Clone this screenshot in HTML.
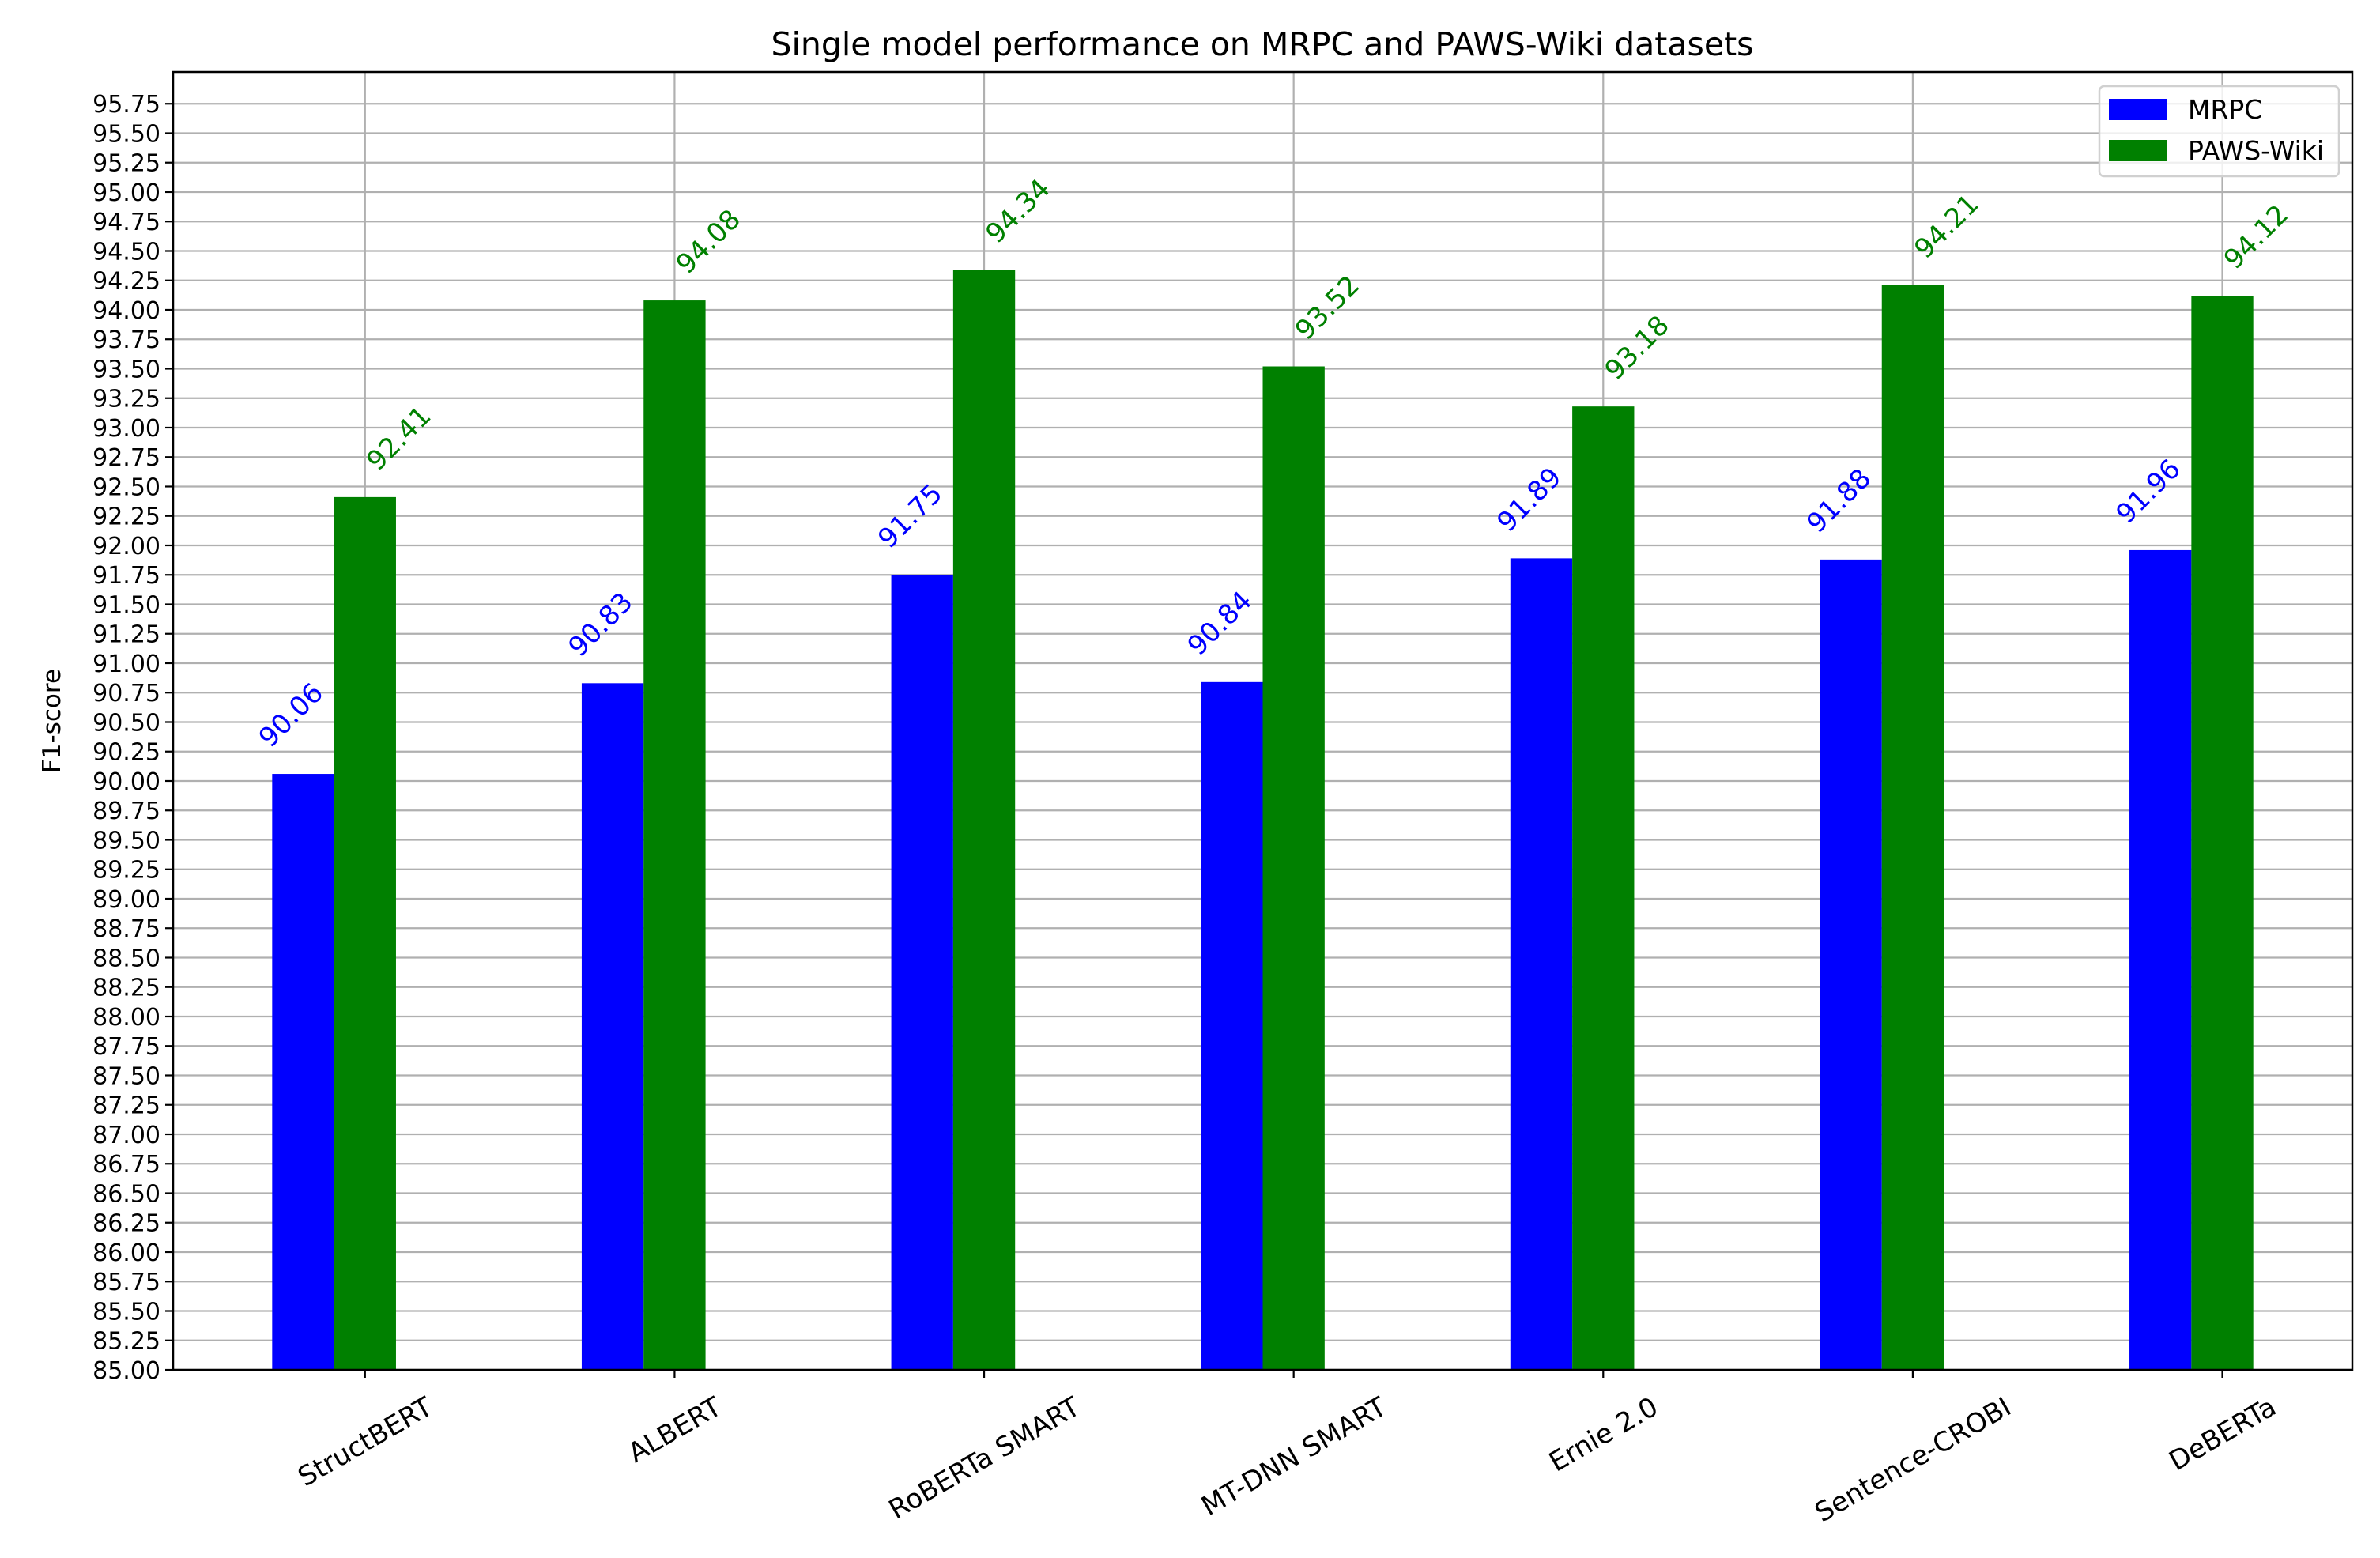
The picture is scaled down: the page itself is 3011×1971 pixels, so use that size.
<!DOCTYPE html>
<html><head><meta charset="utf-8"><style>
html,body{margin:0;padding:0;background:#fff}
svg{display:block;font-family:"DejaVu Sans","Liberation Sans",sans-serif}
</style></head><body>
<svg id="chart" width="3011" height="1971" viewBox="0 0 3011 1971">
<text x="1597" y="70" font-size="41" text-anchor="middle">Single model performance on MRPC and PAWS-Wiki datasets</text>
<text transform="translate(76,912) rotate(-90)" font-size="31" text-anchor="middle">F1-score</text>
<g id="grid"></g><g id="bars"></g><g id="labels"></g><g id="axes"></g>
<g>
<rect x="2656" y="109" width="303" height="114" rx="6" fill="#fff" fill-opacity="0.8" stroke="#d0d0d0" stroke-width="2.5"/>
<rect x="2668" y="125" width="73" height="27" fill="#0000ff"/>
<text x="2768" y="150" font-size="33">MRPC</text>
<rect x="2668" y="177" width="73" height="27" fill="#008000"/>
<text x="2768" y="202" font-size="33">PAWS-Wiki</text>
</g>
</svg>
<script>
const categories=["StructBERT","ALBERT","RoBERTa SMART","MT-DNN SMART","Ernie 2.0","Sentence-CROBI","DeBERTa"];
const mrpc=[90.06,90.83,91.75,90.84,91.89,91.88,91.96];
const paws=[92.41,94.08,94.34,93.52,93.18,94.21,94.12];
const yTicks=[85,85.25,85.5,85.75,86,86.25,86.5,86.75,87,87.25,87.5,87.75,88,88.25,88.5,88.75,89,89.25,89.5,89.75,90,90.25,90.5,90.75,91,91.25,91.5,91.75,92,92.25,92.5,92.75,93,93.25,93.5,93.75,94,94.25,94.5,94.75,95,95.25,95.5,95.75];
const NS="http://www.w3.org/2000/svg";
const L=219,R=2976,T=91,B=1733;
const xmin=-0.62,xmax=6.42,ymin=85,ymax=96.02;
const X=v=>L+(v-xmin)/(xmax-xmin)*(R-L);
const Y=v=>B-(v-ymin)/(ymax-ymin)*(B-T);
function mk(tag,attrs,parent,txt){const e=document.createElementNS(NS,tag);for(const k in attrs)e.setAttribute(k,attrs[k]);if(txt!==undefined)e.textContent=txt;document.getElementById(parent).appendChild(e);return e;}
yTicks.forEach(t=>{
 const y=Y(t);
 const g=mk('line',{x1:L,x2:R,y1:y,y2:y,stroke:'#b0b0b0','stroke-width':2.2},'grid');
 
 
 const tk=mk('line',{x1:L-10,x2:L,y1:y,y2:y,stroke:'#000','stroke-width':2.2},'axes');
 
 
 const lb=mk('text',{x:L-16,y:y+11,'font-size':30,'text-anchor':'end'},'axes',t.toFixed(2));
 
 
});
categories.forEach((c,i)=>{
 const x=X(i);
 const g=mk('line',{x1:x,x2:x,y1:T,y2:B,stroke:'#b0b0b0','stroke-width':2.2},'grid');
 
 
 const b1=mk('rect',{x:X(i-0.3),y:Y(mrpc[i]),width:X(i-0.1)-X(i-0.3),height:B-Y(mrpc[i]),fill:'#0000ff'},'bars');
 
 
 const b2=mk('rect',{x:X(i-0.1),y:Y(paws[i]),width:X(i+0.1)-X(i-0.1),height:B-Y(paws[i]),fill:'#008000'},'bars');
 
 
 const a1=mk('text',{'font-size':34,fill:'#0000ff','text-anchor':'middle',transform:`translate(${X(i-0.2)-15},${Y(mrpc[i])-74}) rotate(-45)`,dy:11},'labels',mrpc[i].toFixed(2));
 
 
 const a2=mk('text',{'font-size':34,fill:'#008000','text-anchor':'middle',transform:`translate(${X(i)+43},${Y(paws[i])-74}) rotate(-45)`,dy:11},'labels',paws[i].toFixed(2));
 
 
 const tk=mk('line',{x1:x,x2:x,y1:B,y2:B+10,stroke:'#000','stroke-width':2.2},'axes');
 
 
 const lb=mk('text',{'font-size':34,'text-anchor':'middle',dy:12},'axes',c);
 
 
 const len=lb.getComputedTextLength();
 const bh=len*0.5+40*0.866;
 lb.setAttribute('transform',`translate(${x},${B+26+bh/2}) rotate(-30)`);
});
const fr=mk('rect',{x:L,y:T,width:R-L,height:B-T,fill:'none',stroke:'#000','stroke-width':2.5},'axes');


</script>
</body></html>
